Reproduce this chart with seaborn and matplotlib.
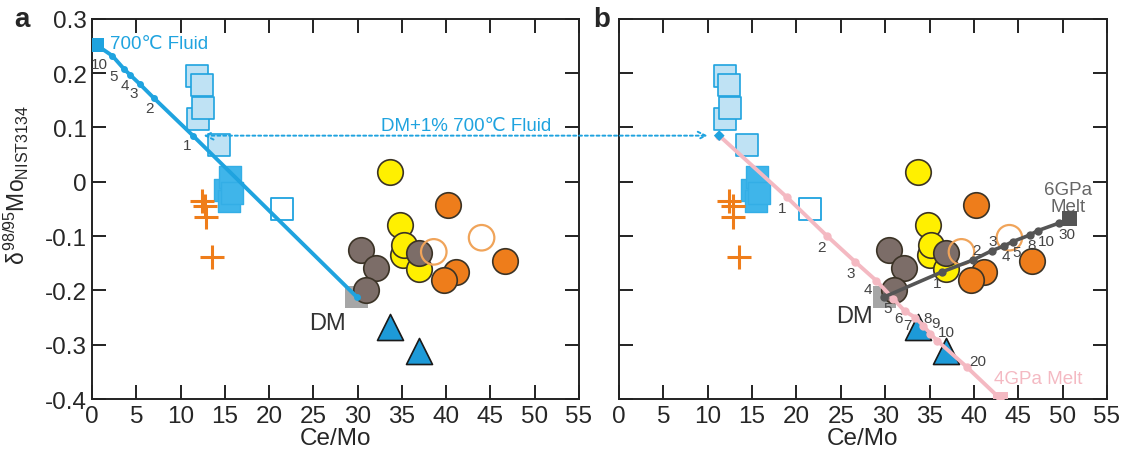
import numpy as np
import pandas as pd
import matplotlib
matplotlib.use("Agg")
import matplotlib.pyplot as plt
import seaborn as sns
from matplotlib.patches import ConnectionPatch

# ---- data ----
light_sq_x = [11.9, 12.4, 12.0, 12.5, 14.4]
light_sq_y = [0.195, 0.179, 0.115, 0.136, 0.067]
blue_sq_x = [15.0, 15.6, 15.5, 15.8]
blue_sq_y = [-0.015, 0.008, -0.035, -0.02]
open_sq_x = [21.5]
open_sq_y = [-0.05]
plus_x = [12.4, 12.8, 12.9, 13.5]
plus_y = [-0.035, -0.045, -0.065, -0.138]
yellow_x = [33.7, 34.8, 35.1, 35.2, 36.9]
yellow_y = [0.018, -0.079, -0.134, -0.117, -0.160]
brown_x = [30.4, 32.1, 31.0, 36.9]
brown_y = [-0.125, -0.158, -0.200, -0.131]
orange_x = [40.2, 41.1, 39.7, 46.6]
orange_y = [-0.042, -0.166, -0.180, -0.145]
open_circ_x = [38.6, 44.0]
open_circ_y = [-0.129, -0.103]
tri_x = [33.7, 36.9]
tri_y = [-0.268, -0.311]
dm = (29.9, -0.212)

# 700C fluid mixing line (panel a)
fluid_x = [0.5, 2.3, 3.6, 4.3, 5.4, 7.0, 11.4, 29.9]
fluid_y = [0.252, 0.232, 0.208, 0.197, 0.180, 0.154, 0.085, -0.212]
fluid_lbl = ["", "10", "5", "4", "3", "2", "1", ""]

# 4GPa melt mixing line (panel b)
melt4_x = [11.3, 18.9, 23.4, 26.6, 29.0, 30.9, 32.2, 33.4, 34.3, 35.1, 35.9, 39.2, 43.0]
melt4_y = [0.085, -0.028, -0.099, -0.147, -0.182, -0.215, -0.238, -0.250, -0.265, -0.280, -0.293, -0.341, -0.400]
melt4_lbl = ["", "1", "2", "3", "4", "5", "6", "7", "8", "9", "10", "20", ""]

# 6GPa melt mixing line (panel b)
melt6_x = [29.9, 36.4, 39.9, 42.0, 43.4, 44.4, 46.3, 47.2, 49.6, 50.8]
melt6_y = [-0.212, -0.166, -0.144, -0.127, -0.118, -0.110, -0.098, -0.090, -0.076, -0.068]
melt6_lbl = ["", "1", "2", "3", "4", "5", "8", "10", "30", ""]

xticks = list(range(0, 60, 5))
yticks = [-0.4, -0.3, -0.2, -0.1, 0, 0.1, 0.2, 0.3]
ytick_labels = ["-0.4", "-0.3", "-0.2", "-0.1", "0", "0.1", "0.2", "0.3"]

# label offsets in pixels (dx right, dy down) for the mixing-line numbers
fluid_off = [None, (-13, 8), (-10, 7), (-5, 10), (-6, 9), (-4, 10), (-6, 9), None]
melt4_off = [None, (-5, 11), (-5, 11), (-4, 11), (-8, 8), (-6, 9), (-6, 7), (-8, 7),
             (4, -8), (5, -11), (9, -9), (11, -6), None]
melt6_off = [None, (-5, 11), (4, -10), (1, -10), (2, 10), (4, 10), (2, 10), (9, 10),
             (8, 11), None]

sns.set_theme(style="white")
plt.rcParams["font.family"] = ["Liberation Sans", "DejaVu Sans"]
plt.rcParams["mathtext.fontset"] = "custom"
plt.rcParams["mathtext.rm"] = "Liberation Sans"
plt.rcParams["mathtext.it"] = "Liberation Sans"

fig = plt.figure(figsize=(11.26, 4.52), dpi=100)
ax_a = fig.add_axes([0.0817, 0.115, 0.4325, 0.841])
ax_b = fig.add_axes([0.5497, 0.115, 0.4334, 0.841])

BLUE = "#1fa3df"
PINK = "#f4b9c2"
GREY = "#555555"
OUTL = "#3b3326"
S = 270


def scatter_points(ax):
    sns.scatterplot(x=light_sq_x, y=light_sq_y, marker="s", s=S, color="#bfe2f4",
                    edgecolor=BLUE, linewidth=1.2, ax=ax, zorder=3)
    sns.scatterplot(x=blue_sq_x, y=blue_sq_y, marker="s", s=S, color="#3fb5ea",
                    edgecolor="#33aee6", linewidth=1.0, ax=ax, zorder=3)
    sns.scatterplot(x=open_sq_x, y=open_sq_y, marker="s", s=S, color="white",
                    edgecolor=BLUE, linewidth=1.3, ax=ax, zorder=3)
    sns.scatterplot(x=plus_x, y=plus_y, marker="+", s=300, color="#ef7d1a",
                    linewidth=2.2, ax=ax, zorder=3)
    sns.scatterplot(x=[dm[0]], y=[dm[1]], marker="s", s=S, color="#a6a6a6",
                    edgecolor="none", ax=ax, zorder=3)
    sns.scatterplot(x=brown_x, y=brown_y, marker="o", s=S * 1.25, color="#7c6d68",
                    edgecolor=OUTL, linewidth=1.2, ax=ax, zorder=4)
    sns.scatterplot(x=yellow_x, y=yellow_y, marker="o", s=S * 1.25, color="#fff000",
                    edgecolor=OUTL, linewidth=1.2, ax=ax, zorder=3.5)
    sns.scatterplot(x=orange_x, y=orange_y, marker="o", s=S * 1.25, color="#ee7d1b",
                    edgecolor=OUTL, linewidth=1.2, ax=ax, zorder=3)
    sns.scatterplot(x=open_circ_x, y=open_circ_y, marker="o", s=S * 1.25, color="none",
                    edgecolor="#f0a45a", linewidth=1.6, ax=ax, zorder=4.5)
    sns.scatterplot(x=tri_x, y=tri_y, marker="^", s=S * 1.3, color="#1d9ad8",
                    edgecolor="#1a1a1a", linewidth=1.2, ax=ax, zorder=3)


def number_labels(ax, xs, ys, labels, offsets):
    for x, y, t, off in zip(xs, ys, labels, offsets):
        if t:
            ax.annotate(t, (x, y), xytext=(off[0], -off[1]), textcoords="offset pixels",
                        fontsize=11, color="#444444", ha="center", va="center", zorder=6)


def style_axes(ax, left_labels):
    ax.set_xlim(0, 55)
    ax.set_ylim(-0.4, 0.3)
    ax.set_xticks(xticks)
    ax.set_xticklabels([str(t) for t in xticks], fontsize=17.5)
    ax.set_yticks(yticks)
    if left_labels:
        ax.set_yticklabels(ytick_labels, fontsize=17.5)
    else:
        ax.set_yticklabels([])
    ax.tick_params(direction="in", length=10, width=1.4, color="#222222",
                   top=True, right=True, bottom=True, left=True, pad=4)
    for sp in ax.spines.values():
        sp.set_color("#222222")
        sp.set_linewidth(1.4)
    ax.set_xlabel("Ce/Mo", fontsize=17.5, labelpad=0)
    ax.set_ylabel("")


# ---- panel a ----
scatter_points(ax_a)
sns.lineplot(x=fluid_x, y=fluid_y, sort=False, color=BLUE, linewidth=2.8,
             marker="o", markersize=5, markeredgewidth=0, ax=ax_a, zorder=5)
sns.scatterplot(x=[fluid_x[0]], y=[fluid_y[0]], marker="s", s=110, color=BLUE,
                edgecolor="none", ax=ax_a, zorder=6)
number_labels(ax_a, fluid_x, fluid_y, fluid_lbl, fluid_off)
ax_a.text(2.0, 0.255, "700℃ Fluid", fontsize=13.5, color=BLUE, va="center")
ax_a.text(26.6, -0.26, "DM", fontsize=17, color="#333333", ha="center", va="center")
ax_a.text(42.3, 0.104, "DM+1% 700℃ Fluid", fontsize=13.5, color=BLUE,
          ha="center", va="center")
style_axes(ax_a, True)
ax_a.set_ylabel(r"$\delta^{98/95}$Mo$_{\mathrm{NIST3134}}$", fontsize=16.5)
ax_a.yaxis.set_label_coords(-0.125, 0.565)

# ---- panel b ----
scatter_points(ax_b)
sns.lineplot(x=melt4_x, y=melt4_y, sort=False, color=PINK, linewidth=2.8,
             marker="o", markersize=6, markeredgewidth=0, ax=ax_b, zorder=5)
sns.scatterplot(x=[melt4_x[-1]], y=[melt4_y[-1]], marker="s", s=110, color=PINK,
                edgecolor="none", ax=ax_b, zorder=6)
sns.scatterplot(x=[melt4_x[0]], y=[melt4_y[0]], marker="D", s=30, color=BLUE,
                edgecolor="none", ax=ax_b, zorder=6)
sns.lineplot(x=melt6_x, y=melt6_y, sort=False, color=GREY, linewidth=2.6,
             marker="o", markersize=6, markeredgewidth=0, ax=ax_b, zorder=5)
sns.scatterplot(x=[melt6_x[-1]], y=[melt6_y[-1]], marker="s", s=110, color=GREY,
                edgecolor="none", ax=ax_b, zorder=6)
number_labels(ax_b, melt4_x, melt4_y, melt4_lbl, melt4_off)
number_labels(ax_b, melt6_x, melt6_y, melt6_lbl, melt6_off)
ax_b.text(50.6, -0.03, "6GPa\nMelt", fontsize=13.5, color="#666666",
          ha="center", va="center", linespacing=1.0)
ax_b.text(47.2, -0.363, "4GPa Melt", fontsize=13.5, color=PINK,
          ha="center", va="center")
ax_b.text(26.6, -0.247, "DM", fontsize=17, color="#333333", ha="center", va="center")
style_axes(ax_b, False)

# dotted arrow linking the two panels
con = ConnectionPatch(xyA=(12.6, 0.085), coordsA=ax_a.transData,
                      xyB=(10.0, 0.085), coordsB=ax_b.transData,
                      arrowstyle="<->", linestyle=(0, (1.5, 1.5)), color=BLUE,
                      linewidth=1.4, mutation_scale=14, zorder=7)
fig.add_artist(con)

fig.text(0.013, 0.955, "a", fontsize=20, fontweight="bold", va="center")
fig.text(0.527, 0.955, "b", fontsize=20, fontweight="bold", va="center")

fig.savefig("out.png", dpi=100, facecolor="white")
